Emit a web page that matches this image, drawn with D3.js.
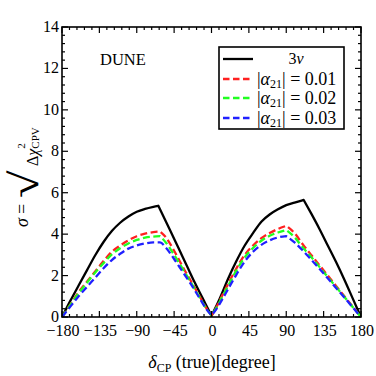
<!DOCTYPE html>
<html>
<head>
<meta charset="utf-8">
<script src="https://cdn.jsdelivr.net/npm/d3@7"></script>
<style>
  html, body { margin: 0; padding: 0; background: #fff; }
  svg text { font-family: "Liberation Serif", "Times New Roman", Times, Tinos, "DejaVu Serif", "Noto Serif", serif; fill: #000; }
</style>
</head>
<body>
<svg id="chart" width="376" height="376"></svg>
<script>
// delta_CP (true) in degrees
const deltaThreeNu = [-180, -170, -160, -150, -140, -130, -120, -110, -100, -90, -80, -70, -64, -50, -40, -30, -20, -10, -3, 0, 3, 10, 20, 30, 40, 50, 60, 70, 80, 90, 100, 111, 120, 130, 140, 150, 160, 170, 180];
const sigmaThreeNu = [0, 0.78, 1.52, 2.25, 2.98, 3.62, 4.15, 4.55, 4.85, 5.08, 5.22, 5.32, 5.37, 4.2, 3.35, 2.5, 1.65, 0.85, 0.3, 0.05, 0.3, 0.9, 1.85, 2.7, 3.45, 4.05, 4.6, 4.95, 5.2, 5.4, 5.52, 5.65, 5.0, 4.25, 3.45, 2.65, 1.8, 0.9, 0];

const deltaAlpha = [-180, -170, -160, -150, -140, -130, -120, -110, -100, -90, -80, -70, -62, -55, -45, -35, -25, -15, -5, 0, 5, 10, 20, 30, 40, 50, 60, 70, 80, 90, 100, 110, 120, 130, 140, 150, 160, 170, 180];
const sigmaAlpha01 = [0, 0.6, 1.2, 1.7, 2.2, 2.7, 3.15, 3.45, 3.7, 3.9, 4.02, 4.1, 4.13, 3.85, 3.2, 2.45, 1.75, 1.05, 0.35, 0.08, 0.4, 0.8, 1.6, 2.35, 3.0, 3.45, 3.8, 4.05, 4.25, 4.4, 4.05, 3.5, 3.0, 2.5, 2.0, 1.5, 1.0, 0.5, 0];
const sigmaAlpha02 = [0, 0.58, 1.15, 1.65, 2.15, 2.6, 3.02, 3.32, 3.55, 3.72, 3.83, 3.88, 3.9, 3.6, 3.0, 2.35, 1.68, 1.0, 0.33, 0.08, 0.38, 0.75, 1.5, 2.25, 2.88, 3.33, 3.68, 3.92, 4.08, 4.2, 3.85, 3.35, 2.9, 2.42, 1.93, 1.45, 0.97, 0.48, 0];
const sigmaAlpha03 = [0, 0.5, 1.0, 1.45, 1.9, 2.35, 2.75, 3.05, 3.3, 3.45, 3.55, 3.6, 3.6, 3.35, 2.8, 2.2, 1.6, 0.95, 0.32, 0.08, 0.33, 0.65, 1.35, 2.05, 2.68, 3.15, 3.48, 3.7, 3.84, 3.9, 3.6, 3.2, 2.77, 2.33, 1.87, 1.4, 0.94, 0.47, 0];

const xTicks = [-180, -135, -90, -45, 0, 45, 90, 135, 180];
const yTicks = [0, 2, 4, 6, 8, 10, 12, 14];
const legendLabels = ["3ν", "0.01", "0.02", "0.03"];
const legendColors = ["#000000", "#ff2020", "#20ff20", "#2020ff"];

const svg = d3.select("#chart");
const plotLeft = 62, plotRight = 361, plotTop = 27, plotBottom = 317;

const x = d3.scaleLinear().domain([-180, 180]).range([plotLeft, plotRight]);
const y = d3.scaleLinear().domain([0, 14]).range([plotBottom, plotTop]);

const series = [
  { d: deltaThreeNu, s: sigmaThreeNu, color: legendColors[0], dash: null },
  { d: deltaAlpha, s: sigmaAlpha01, color: legendColors[1], dash: "7,3.5" },
  { d: deltaAlpha, s: sigmaAlpha02, color: legendColors[2], dash: "7,3.5" },
  { d: deltaAlpha, s: sigmaAlpha03, color: legendColors[3], dash: "7,3.5" }
];

const line = d3.line().x((p) => x(p[0])).y((p) => y(p[1])).curve(d3.curveMonotoneX);

// smooth each monotone piece, keep the corners at the peaks and at the dip
function smoothPath(pts) {
  const breaks = [0];
  for (let i = 1; i < pts.length - 1; i++) {
    const a = pts[i][1] - pts[i - 1][1], b = pts[i + 1][1] - pts[i][1];
    if (a * b < 0) breaks.push(i);
  }
  breaks.push(pts.length - 1);
  let d = "";
  for (let k = 0; k < breaks.length - 1; k++) {
    const piece = line(pts.slice(breaks[k], breaks[k + 1] + 1));
    d += k === 0 ? piece : piece.replace(/^M[^A-Za-z]*/, "");
  }
  return d;
}

const plot = svg.append("g");
plot.append("defs").append("clipPath").attr("id", "clip")
  .append("rect").attr("x", plotLeft).attr("y", plotTop)
  .attr("width", plotRight - plotLeft).attr("height", plotBottom - plotTop);

series.forEach((sr) => {
  plot.append("path")
    .attr("clip-path", "url(#clip)")
    .attr("d", smoothPath(sr.d.map((v, i) => [v, sr.s[i]])))
    .attr("fill", "none")
    .attr("stroke", sr.color)
    .attr("stroke-width", 2.3)
    .attr("stroke-dasharray", sr.dash)
    .attr("stroke-linejoin", "round");
});

// Frame
svg.append("rect")
  .attr("x", plotLeft).attr("y", plotTop)
  .attr("width", plotRight - plotLeft).attr("height", plotBottom - plotTop)
  .attr("fill", "none").attr("stroke", "#000").attr("stroke-width", 1.6);

// Ticks, inward, on all four sides
const xMinor = d3.range(-180, 181, 9);
const yMinor = d3.range(0, 14.01, 0.4);
const tickG = svg.append("g").attr("stroke", "#000").attr("stroke-width", 1.2);
xMinor.forEach((v) => {
  const len = xTicks.includes(v) ? 6 : 3;
  tickG.append("line").attr("x1", x(v)).attr("x2", x(v)).attr("y1", plotBottom).attr("y2", plotBottom - len);
  tickG.append("line").attr("x1", x(v)).attr("x2", x(v)).attr("y1", plotTop).attr("y2", plotTop + len);
});
yMinor.forEach((v) => {
  const major = Math.abs(v / 2 - Math.round(v / 2)) < 1e-6;
  const len = major ? 6 : 3;
  tickG.append("line").attr("y1", y(v)).attr("y2", y(v)).attr("x1", plotLeft).attr("x2", plotLeft + len);
  tickG.append("line").attr("y1", y(v)).attr("y2", y(v)).attr("x1", plotRight).attr("x2", plotRight - len);
});

// Tick labels
svg.append("g").selectAll("text").data(xTicks).enter().append("text")
  .attr("x", (d) => x(d) + 1).attr("y", 336)
  .attr("text-anchor", "middle")
  .attr("font-size", 16)
  .text((d) => (d < 0 ? "\u2212" + Math.abs(d) : d));

svg.append("g").selectAll("text").data(yTicks).enter().append("text")
  .attr("x", plotLeft - 3).attr("y", (d) => y(d) + 5)
  .attr("text-anchor", "end")
  .attr("font-size", 16)
  .text((d) => d);

// X axis title
const xt = svg.append("text").attr("x", 212).attr("y", 368).attr("text-anchor", "middle").attr("font-size", 18);
xt.append("tspan").attr("font-style", "italic").text("δ");
xt.append("tspan").attr("font-size", 12).attr("dy", 4).text("CP");
xt.append("tspan").attr("dy", -4).text(" (true)[degree]");

// Y axis title (rotated): sigma = sqrt(Delta chi^2_CPV)
const yt = svg.append("g").attr("transform", "translate(28,0) rotate(-90)");
yt.append("text").attr("x", -227).attr("y", 0).attr("font-size", 18).attr("font-style", "italic").text("σ");
yt.append("text").attr("x", -214).attr("y", 0).attr("font-size", 18).text("=");
yt.append("text").attr("x", -198).attr("y", 10).attr("font-size", 40)
  .attr("transform", "translate(-198,10) scale(1.25,1) translate(198,-10)").text("√");
const rad = yt.append("text").attr("x", -166).attr("y", 10).attr("font-size", 16);
rad.append("tspan").text("Δ");
rad.append("tspan").attr("font-style", "italic").text("χ");
rad.append("tspan").attr("font-size", 11).attr("dy", -13).text("2");
rad.append("tspan").attr("font-size", 11).attr("dx", -5.5).attr("dy", 14).text("CPV");

// DUNE label
svg.append("text").attr("x", 100).attr("y", 65).attr("font-size", 16.5).text("DUNE");

// Legend
const lg = svg.append("g");
lg.append("rect").attr("x", 219).attr("y", 47).attr("width", 125).attr("height", 82)
  .attr("fill", "#fff").attr("stroke", "#000").attr("stroke-width", 1.6);
const rowsY = [59, 79, 98, 118];
legendLabels.forEach((lab, i) => {
  lg.append("line")
    .attr("x1", 223).attr("x2", 253).attr("y1", rowsY[i]).attr("y2", rowsY[i])
    .attr("stroke", legendColors[i]).attr("stroke-width", 2.3)
    .attr("stroke-dasharray", i === 0 ? null : "6.5,3.5");
  if (i === 0) {
    const t = lg.append("text").attr("x", 296).attr("y", rowsY[i] + 5).attr("text-anchor", "middle").attr("font-size", 16);
    t.append("tspan").text("3");
    t.append("tspan").attr("font-style", "italic").text("ν");
  } else {
    const t = lg.append("text").attr("x", 257).attr("y", rowsY[i] + 6).attr("font-size", 18);
    t.append("tspan").text("|");
    t.append("tspan").attr("font-style", "italic").text("α");
    t.append("tspan").attr("font-size", 12).attr("dy", 3).text("21");
    t.append("tspan").attr("dy", -3).text("| = " + lab);
  }
});
</script>
</body>
</html>
